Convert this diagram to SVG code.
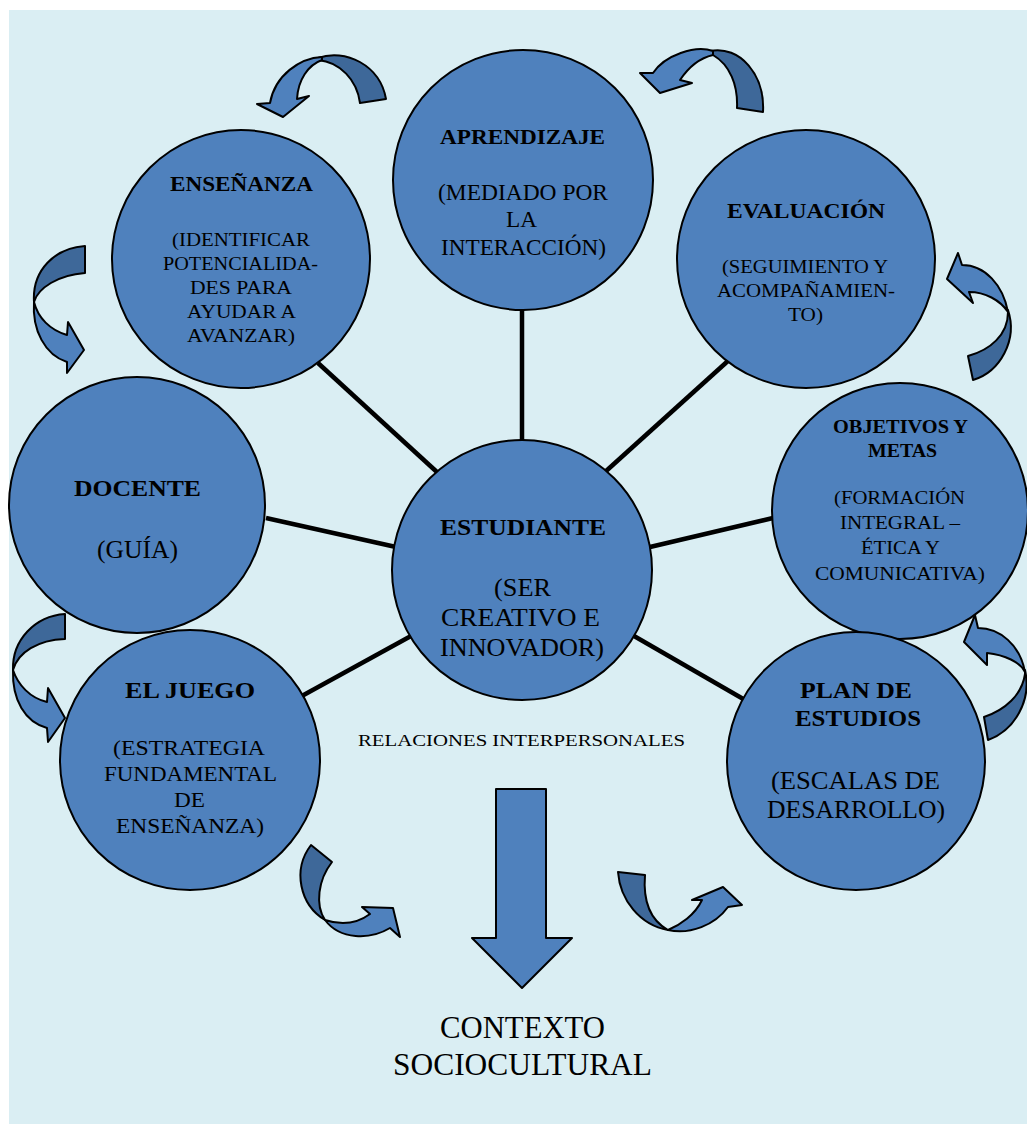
<svg xmlns="http://www.w3.org/2000/svg" width="1027" height="1124" viewBox="0 0 1027 1124">
<style>
.bg{fill:#daeef3}
.node{fill:#4f81bd;stroke:#000;stroke-width:2}
.lt{fill:#4f81bd;stroke:#000;stroke-width:2;stroke-linejoin:round}
.dk{fill:#3e6899;stroke:#000;stroke-width:2;stroke-linejoin:round}
.conn{stroke:#000;stroke-width:4.5}
text{font-family:"Liberation Serif","Times New Roman",serif;fill:#000;text-anchor:middle}
.b{font-weight:bold}
</style>
<rect x="0" y="0" width="1027" height="1124" fill="#fff"/>
<rect class="bg" x="9" y="10" width="1018" height="1114"/>
<g id="connectors">
<line class="conn" x1="318" y1="363" x2="438" y2="473"/>
<line class="conn" x1="522" y1="310" x2="522" y2="442"/>
<line class="conn" x1="729" y1="360" x2="605" y2="472"/>
<line class="conn" x1="773" y1="518" x2="650" y2="547"/>
<line class="conn" x1="634" y1="636" x2="745" y2="700"/>
<line class="conn" x1="266" y1="518" x2="396" y2="547"/>
<line class="conn" x1="300" y1="697" x2="411" y2="636"/>
</g>
<g id="curved-arrows">
<g id="arrow-1"><path class="dk" d="M318,58 C345,48 380,65 386,99 L360,103 C357,80 340,62 318,60 Z"/><path class="lt" d="M322,57 C300,58 275,75 270,103 L257,104 L283,117 L309,96 L297,99 C298,80 308,65 322,60 Z"/></g>
<g id="arrow-2"><path class="dk" d="M710,51 C740,45 765,75 763,112 L737,108 C738,85 730,65 713,55 Z"/><path class="lt" d="M713,51 C695,45 665,55 653,73 L640,73 L660,93 L692,83 L680,80 C690,65 700,58 713,55 Z"/></g>
<g id="arrow-3"><path class="dk" d="M1008,310 C1018,340 1000,372 973,380 L968,356 C990,350 1008,335 1008,312 Z"/><path class="lt" d="M1008,312 C1003,285 985,265 962,265 L958,253 L947,279 L973,303 L969,292 C985,292 1000,300 1008,312 Z"/></g>
<g id="arrow-4"><path class="dk" d="M1025,670 C1032,700 1015,730 988,740 L984,717 C1005,710 1022,695 1025,674 Z"/><path class="lt" d="M1025,672 C1020,645 1000,628 978,628 L975,615 L964,642 L987,665 L987,653 C1005,655 1020,662 1025,672 Z"/></g>
<g id="arrow-5"><path class="dk" d="M618,872 L645,875 C643,900 650,920 668,930 C640,925 620,900 618,872 Z"/><path class="lt" d="M668,930 C690,935 715,925 728,907 L742,905 L723,887 L692,900 L702,900 C695,915 680,925 668,930 Z"/></g>
<g id="arrow-6"><path class="dk" d="M311,845 L332,862 C318,880 315,905 325,920 C300,905 292,870 311,845 Z"/><path class="lt" d="M325,920 C340,940 370,940 390,928 L400,937 L393,908 L362,907 L370,914 C355,925 340,925 325,920 Z"/></g>
<g id="arrow-7"><path class="dk" d="M65,614 L65,639 C38,640 18,652 13,670 C12,640 35,616 65,614 Z"/><path class="lt" d="M13,670 C12,700 25,722 47,728 L48,742 L65,718 L48,688 L47,702 C30,698 18,685 13,670 Z"/></g>
<g id="arrow-8"><path class="dk" d="M85,246 L85,273 C58,275 38,288 34,302 C32,270 55,248 85,246 Z"/><path class="lt" d="M34,302 C32,330 45,355 67,362 L67,373 L84,350 L68,322 L67,335 C50,330 38,318 34,302 Z"/></g>
</g>
<g id="ensenanza">
<circle class="node" cx="241" cy="259" r="129"/>
<text class="b" x="241.5" y="191" font-size="21" textLength="143" lengthAdjust="spacingAndGlyphs">ENSEÑANZA</text>
<text x="241" y="246" font-size="19" textLength="138" lengthAdjust="spacingAndGlyphs">(IDENTIFICAR</text>
<text x="240.5" y="270" font-size="19" textLength="155" lengthAdjust="spacingAndGlyphs">POTENCIALIDA-</text>
<text x="241" y="294" font-size="19" textLength="102" lengthAdjust="spacingAndGlyphs">DES PARA</text>
<text x="241.5" y="318" font-size="19" textLength="109" lengthAdjust="spacingAndGlyphs">AYUDAR A</text>
<text x="241" y="342" font-size="19" textLength="108" lengthAdjust="spacingAndGlyphs">AVANZAR)</text>
</g>
<g id="aprendizaje">
<circle class="node" cx="523" cy="180" r="130"/>
<text class="b" x="522.5" y="144" font-size="22" textLength="165" lengthAdjust="spacingAndGlyphs">APRENDIZAJE</text>
<text x="523" y="200" font-size="23" textLength="170" lengthAdjust="spacingAndGlyphs">(MEDIADO POR</text>
<text x="521.5" y="227" font-size="23" textLength="31" lengthAdjust="spacingAndGlyphs">LA</text>
<text x="523.5" y="255" font-size="23" textLength="165" lengthAdjust="spacingAndGlyphs">INTERACCIÓN)</text>
</g>
<g id="evaluacion">
<circle class="node" cx="806" cy="259" r="129"/>
<text class="b" x="806" y="218" font-size="21" textLength="158" lengthAdjust="spacingAndGlyphs">EVALUACIÓN</text>
<text x="805" y="273" font-size="18.5" textLength="166" lengthAdjust="spacingAndGlyphs">(SEGUIMIENTO Y</text>
<text x="806" y="297" font-size="18.5" textLength="178" lengthAdjust="spacingAndGlyphs">ACOMPAÑAMIEN-</text>
<text x="805.5" y="321" font-size="18.5" textLength="35" lengthAdjust="spacingAndGlyphs">TO)</text>
</g>
<g id="objetivos">
<circle class="node" cx="900" cy="511" r="128"/>
<text class="b" x="900.5" y="433" font-size="19" textLength="135" lengthAdjust="spacingAndGlyphs">OBJETIVOS Y</text>
<text class="b" x="902.5" y="457" font-size="19" textLength="69" lengthAdjust="spacingAndGlyphs">METAS</text>
<text x="899.5" y="504" font-size="19.5" textLength="131" lengthAdjust="spacingAndGlyphs">(FORMACIÓN</text>
<text x="900" y="529" font-size="19.5" textLength="120" lengthAdjust="spacingAndGlyphs">INTEGRAL –</text>
<text x="900.5" y="554" font-size="19.5" textLength="79" lengthAdjust="spacingAndGlyphs">ÉTICA Y</text>
<text x="900" y="580" font-size="19.5" textLength="170" lengthAdjust="spacingAndGlyphs">COMUNICATIVA)</text>
</g>
<g id="plan">
<circle class="node" cx="856" cy="761" r="129"/>
<text class="b" x="856" y="698" font-size="24" textLength="112" lengthAdjust="spacingAndGlyphs">PLAN DE</text>
<text class="b" x="858" y="726" font-size="24" textLength="126" lengthAdjust="spacingAndGlyphs">ESTUDIOS</text>
<text x="855.5" y="789" font-size="25" textLength="169" lengthAdjust="spacingAndGlyphs">(ESCALAS DE</text>
<text x="856" y="818" font-size="25" textLength="178" lengthAdjust="spacingAndGlyphs">DESARROLLO)</text>
</g>
<g id="estudiante">
<circle class="node" cx="522" cy="570" r="130"/>
<text class="b" x="523" y="535" font-size="24" textLength="166" lengthAdjust="spacingAndGlyphs">ESTUDIANTE</text>
<text x="522.5" y="596" font-size="25" textLength="57" lengthAdjust="spacingAndGlyphs">(SER</text>
<text x="520.5" y="626" font-size="25" textLength="159" lengthAdjust="spacingAndGlyphs">CREATIVO E</text>
<text x="522" y="656" font-size="25" textLength="164" lengthAdjust="spacingAndGlyphs">INNOVADOR)</text>
</g>
<g id="docente">
<circle class="node" cx="137" cy="505" r="128"/>
<text class="b" x="137.5" y="496" font-size="24" textLength="127" lengthAdjust="spacingAndGlyphs">DOCENTE</text>
<text x="137.5" y="558" font-size="25" textLength="81" lengthAdjust="spacingAndGlyphs">(GUÍA)</text>
</g>
<g id="el-juego">
<circle class="node" cx="190" cy="760" r="130"/>
<text class="b" x="190" y="698" font-size="24" textLength="130" lengthAdjust="spacingAndGlyphs">EL JUEGO</text>
<text x="189" y="755" font-size="22" textLength="152" lengthAdjust="spacingAndGlyphs">(ESTRATEGIA</text>
<text x="190.5" y="781" font-size="22" textLength="173" lengthAdjust="spacingAndGlyphs">FUNDAMENTAL</text>
<text x="189.5" y="807" font-size="22" textLength="31" lengthAdjust="spacingAndGlyphs">DE</text>
<text x="190" y="833" font-size="22" textLength="148" lengthAdjust="spacingAndGlyphs">ENSEÑANZA)</text>
</g>
<text x="521.5" y="746" font-size="17" textLength="327" lengthAdjust="spacingAndGlyphs">RELACIONES INTERPERSONALES</text>
<g id="down-arrow">
<path class="lt" d="M496,789 L546,789 L546,938 L572,938 L522,988 L472,938 L496,938 Z"/>
</g>
<g id="contexto">
<text x="522.5" y="1038" font-size="31" textLength="165" lengthAdjust="spacingAndGlyphs">CONTEXTO</text>
<text x="522.5" y="1075" font-size="31" textLength="259" lengthAdjust="spacingAndGlyphs">SOCIOCULTURAL</text>
</g>
</svg>
